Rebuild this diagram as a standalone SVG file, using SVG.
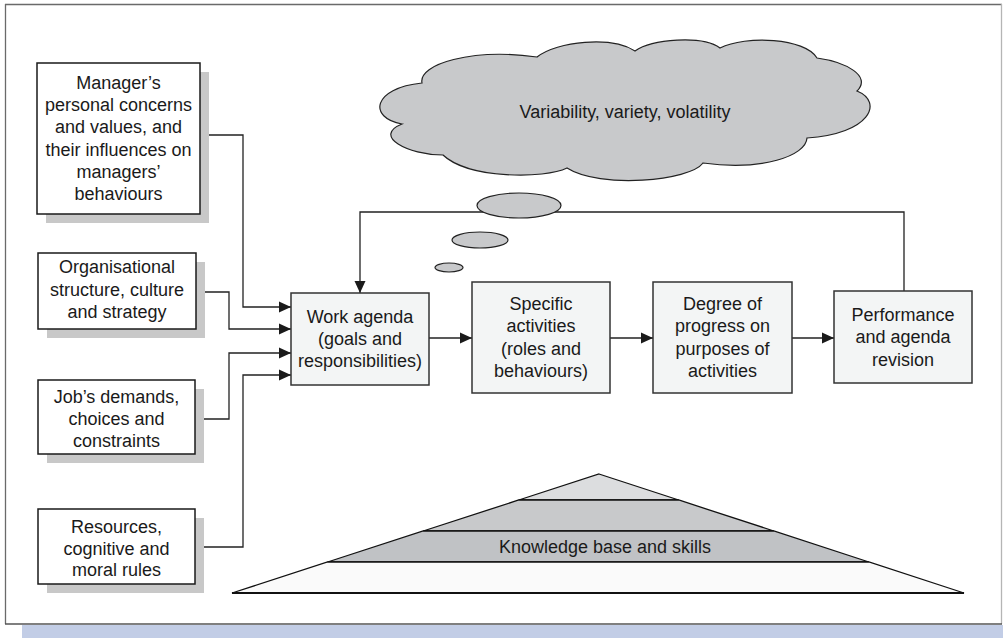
<svg xmlns="http://www.w3.org/2000/svg" width="1003" height="638" viewBox="0 0 1003 638">
<style>
text{font-family:"Liberation Sans",Arial,sans-serif;font-size:18px;fill:#1a1a1a;text-anchor:middle}
.shadow{fill:#c8c8c8}
.inbox{fill:#ffffff;stroke:#1a1a1a;stroke-width:1.5}
.flow{fill:#f3f5f5;stroke:#333;stroke-width:1.5}
.conn{fill:none;stroke:#222;stroke-width:1.3}
.grey{fill:#c8c9cb;stroke:#222;stroke-width:1.2}
</style>
<defs>
<marker id="ah" viewBox="0 0 12 12" refX="12" refY="6" markerWidth="12" markerHeight="12" markerUnits="userSpaceOnUse" orient="auto">
<path d="M0,0.5 L12,6 L0,11.5 z" fill="#1a1a1a"/>
</marker>
</defs>
<rect width="1003" height="638" fill="#ffffff"/>
<g id="frame">
<rect x="22" y="625" width="981" height="13" fill="#c2cde6"/>
<line x1="5.5" y1="4" x2="5.5" y2="624" stroke="#6a6a6a" stroke-width="1.3"/>
<line x1="5" y1="4.5" x2="1002" y2="4.5" stroke="#6a6a6a" stroke-width="1.3"/>
<line x1="1001.5" y1="4" x2="1001.5" y2="624" stroke="#b5b5b5" stroke-width="1.3"/>
<line x1="5" y1="624" x2="1002" y2="624" stroke="#555" stroke-width="1.5"/>
</g>
<g id="cloud">
<path class="grey" d="M422,83 C418,64 472,48 537,57 C557,41 612,36 635,51 C652,39 702,35 720,48 C746,35 805,38 817,58 C846,62 872,76 857,91 C884,102 870,134 807,138 C806,156 762,171 703,163 C690,181 600,189 567,168 C545,179 468,179 443,155 C408,155 372,136 402,124 C368,118 372,88 422,83 Z"/>
<text x="625" y="118">Variability, variety, volatility</text>
</g>
<g id="connectors">
<path class="conn" d="M200,135 H243 V307 H291" marker-end="url(#ah)"/>
<path class="conn" d="M196,292 H229 V329 H291" marker-end="url(#ah)"/>
<path class="conn" d="M195,419 H229 V353 H291" marker-end="url(#ah)"/>
<path class="conn" d="M195,547 H243 V375 H291" marker-end="url(#ah)"/>
<path class="conn" d="M429,338 H472" marker-end="url(#ah)"/>
<path class="conn" d="M610,338 H653" marker-end="url(#ah)"/>
<path class="conn" d="M792,338 H834" marker-end="url(#ah)"/>
<path class="conn" d="M904,291 V212 H360 V293" marker-end="url(#ah)"/>
</g>
<g id="bubbles">
<ellipse class="grey" cx="519" cy="205.5" rx="42" ry="12.5"/>
<ellipse class="grey" cx="480" cy="240" rx="28" ry="8"/>
<ellipse class="grey" cx="449" cy="267.5" rx="14" ry="4.5"/>
</g>
<g id="n-manager">
<rect class="shadow" x="46" y="72" width="163" height="151"/>
<rect class="inbox" x="37" y="63" width="163" height="151"/>
<text x="118.5" y="89">Manager’s</text>
<text x="118.5" y="111">personal concerns</text>
<text x="118.5" y="133">and values, and</text>
<text x="118.5" y="156">their influences on</text>
<text x="118.5" y="178">managers’</text>
<text x="118.5" y="200">behaviours</text>
</g>
<g id="n-org">
<rect class="shadow" x="47" y="262" width="158" height="76"/>
<rect class="inbox" x="38" y="253" width="158" height="76"/>
<text x="117" y="273">Organisational</text>
<text x="117" y="296">structure, culture</text>
<text x="117" y="318">and strategy</text>
</g>
<g id="n-job">
<rect class="shadow" x="47" y="389" width="157" height="74"/>
<rect class="inbox" x="38" y="380" width="157" height="74"/>
<text x="116.5" y="403">Job’s demands,</text>
<text x="116.5" y="425">choices and</text>
<text x="116.5" y="447">constraints</text>
</g>
<g id="n-resources">
<rect class="shadow" x="47" y="518" width="157" height="75"/>
<rect class="inbox" x="38" y="509" width="157" height="75"/>
<text x="116.5" y="533">Resources,</text>
<text x="116.5" y="555">cognitive and</text>
<text x="116.5" y="576">moral rules</text>
</g>
<g id="n-agenda">
<rect class="flow" x="291" y="293" width="138" height="92"/>
<text x="360" y="323">Work agenda</text>
<text x="360" y="345">(goals and</text>
<text x="360" y="367">responsibilities)</text>
</g>
<g id="n-activities">
<rect class="flow" x="472" y="282" width="138" height="111"/>
<text x="541" y="310">Specific</text>
<text x="541" y="332">activities</text>
<text x="541" y="355">(roles and</text>
<text x="541" y="377">behaviours)</text>
</g>
<g id="n-progress">
<rect class="flow" x="653" y="282" width="139" height="111"/>
<text x="722.5" y="310">Degree of</text>
<text x="722.5" y="332">progress on</text>
<text x="722.5" y="355">purposes of</text>
<text x="722.5" y="377">activities</text>
</g>
<g id="n-performance">
<rect class="flow" x="834" y="291" width="138" height="92"/>
<text x="903" y="321">Performance</text>
<text x="903" y="343">and agenda</text>
<text x="903" y="366">revision</text>
</g>
<g id="pyramid">
<polygon points="599,474 678.7,500 518.8,500" fill="#dcdddf" stroke="#111" stroke-width="1.3"/>
<polygon points="518.8,500 678.7,500 773.8,531 423.2,531" fill="#c8c9cb" stroke="#111" stroke-width="1.3"/>
<polygon points="423.2,531 773.8,531 868.9,562 327.6,562" fill="#c0c2c5" stroke="#111" stroke-width="1.3"/>
<polygon points="327.6,562 868.9,562 964,593 232,593" fill="#fafafa" stroke="#111" stroke-width="1.3"/>
<line x1="232" y1="593" x2="964" y2="593" stroke="#111" stroke-width="2.2"/>
<text x="605" y="553">Knowledge base and skills</text>
</g>
</svg>
